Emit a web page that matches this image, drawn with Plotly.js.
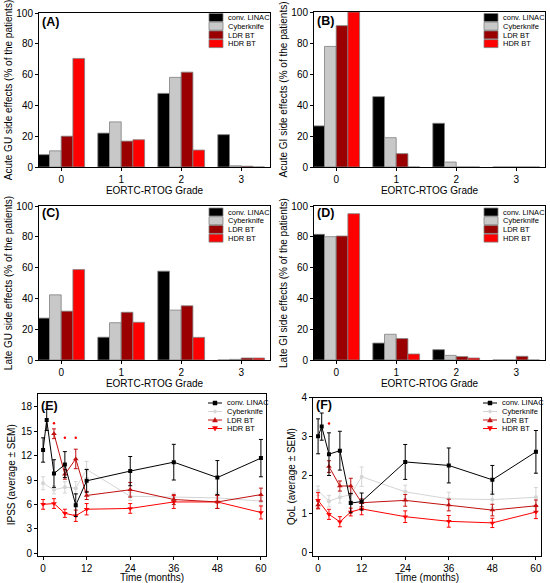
<!DOCTYPE html>
<html>
<head>
<meta charset="utf-8">
<script src="https://cdn.plot.ly/plotly-3.0.1.min.js"></script>
<style>html,body{margin:0;padding:0;background:#fff}#chart{width:550px;height:583px}</style>
</head>
<body>
<div id="chart"></div>
<script>
// ---------- DATA ----------
const seriesNames = ["conv. LINAC", "Cyberknife", "LDR BT", "HDR BT"];
const grades = [0, 1, 2, 3];
const gradeLabels = ["0", "1", "2", "3"];

// (A) Acute GU side effects (% of patients) per grade
const acuteGU_linac = [8, 22, 47.8, 21];
const acuteGU_cyber = [10.5, 29.3, 58.2, 0.8];
const acuteGU_ldr   = [20, 16.8, 61.6, 0.5];
const acuteGU_hdr   = [70.5, 17.7, 11, 0];

// (B) Acute GI
const acuteGI_linac = [26.5, 45.4, 28.2, 0];
const acuteGI_cyber = [77.8, 18.9, 3.2, 0];
const acuteGI_ldr   = [91.2, 8.6, 0, 0];
const acuteGI_hdr   = [100, 0, 0, 0];

// (C) Late GU
const lateGU_linac = [27.2, 14.8, 57.7, 0];
const lateGU_cyber = [42.3, 24.2, 32.4, 0.4];
const lateGU_ldr   = [31.7, 31, 35.2, 1.3];
const lateGU_hdr   = [58.7, 24.5, 14.7, 1.3];

// (D) Late GI
const lateGI_linac = [81.6, 11, 6.7, 0];
const lateGI_cyber = [80.1, 16.7, 3, 0];
const lateGI_ldr   = [80.5, 13.9, 2.2, 2.4];
const lateGI_hdr   = [95, 3.9, 1.3, 0];

// (E) IPSS over time (months)
const months_linac = [0, 1, 3, 6, 9, 12, 24, 36, 48, 60];
const months_cyber = [0, 3, 6, 9, 12, 24, 36, 48, 60];
const months_ldrE  = [3, 6, 9, 12, 24, 36, 48, 60];
const months_hdr   = [0, 3, 6, 9, 12, 24, 36, 48, 60];
const ipss_linac     = [12.7, 16.4, 9.8, 10.9, 5.9, 8.9, 10.1, 11.2, 9.3, 11.7];
const ipss_linac_err = [1.5, 1.3, 1.7, 1.6, 1.4, 1.4, 1.8, 2.2, 2.1, 2.3];
const ipss_cyber     = [8.6, 7.8, 8.1, 8.0, 10.3, 7.0, 6.9, 6.8, 6.4];
const ipss_cyber_err = [0.8, 0.5, 0.7, 0.8, 1.0, 0.5, 0.5, 0.6, 0.5];
const ipss_ldr       = [14.7, 9.7, 11.6, 7.1, 7.8, 6.6, 6.3, 7.2];
const ipss_ldr_err   = [0.6, 0.6, 1.2, 0.5, 0.9, 0.6, 0.8, 0.8];
const ipss_hdr       = [6.0, 6.1, 4.9, 4.6, 5.4, 5.5, 6.3, 6.3, 5.0];
const ipss_hdr_err   = [0.6, 0.6, 0.5, 0.7, 0.7, 0.6, 0.8, 0.8, 0.8];
const ipss_sig_months = [3, 6, 9];
const ipss_sig_values = [16.0, 14.2, 14.2];

// (F) QoL over time (months)
const months_ldrF  = [0, 1, 3, 6, 9, 12, 24, 36, 48, 60];
const qol_linac     = [3.0, 3.25, 2.54, 2.63, 1.28, 1.32, 2.34, 2.25, 1.88, 2.6];
const qol_linac_err = [0.45, 0.35, 0.55, 0.5, 0.25, 0.22, 0.45, 0.45, 0.37, 0.55];
const qol_cyber     = [1.6, 1.33, 1.43, 1.5, 1.96, 1.57, 1.39, 1.37, 1.43];
const qol_cyber_err = [0.12, 0.15, 0.15, 0.15, 0.25, 0.17, 0.17, 0.2, 0.25];
const qol_ldr       = [1.23, null, 2.22, 1.72, 1.72, 1.29, 1.35, 1.23, 1.1, 1.21];
const qol_ldr_err   = [0.1, 0, 0.15, 0.13, 0.2, 0.1, 0.15, 0.15, 0.15, 0.15];
const qol_hdr       = [1.35, 0.99, 0.8, 1.05, 1.13, 0.93, 0.81, 0.77, 1.05];
const qol_hdr_err   = [0.2, 0.13, 0.13, 0.1, 0.15, 0.15, 0.15, 0.12, 0.17];
const qol_sig_months = [3];
const qol_sig_values = [3.33];

const monthTicks = [0, 12, 24, 36, 48, 60];

// ---------- STYLE ----------
const W = 550, H = 583;
const FONT = "Liberation Sans, Arial, sans-serif";
const barColors = ["#000000", "#c8c8c8", "#9b0000", "#ff0000"];
const lineColors = ["#000000", "#d4d4d4", "#c01010", "#ff0000"];
const lineSymbols = ["square", "circle", "triangle-up", "triangle-down"];
const px = x => x / W;
const py = y => 1 - y / H;

const traces = [];
function addBars(xa, ya, arrs) {
  arrs.forEach((vals, i) => {
    traces.push({
      type: "bar", x: grades, y: vals, xaxis: xa, yaxis: ya,
      name: seriesNames[i], showlegend: false,
      marker: { color: barColors[i], line: { color: "#808080", width: 0.8 } },
      hoverinfo: "x+y"
    });
  });
}
addBars("x", "y", [acuteGU_linac, acuteGU_cyber, acuteGU_ldr, acuteGU_hdr]);
addBars("x2", "y2", [acuteGI_linac, acuteGI_cyber, acuteGI_ldr, acuteGI_hdr]);
addBars("x3", "y3", [lateGU_linac, lateGU_cyber, lateGU_ldr, lateGU_hdr]);
addBars("x4", "y4", [lateGI_linac, lateGI_cyber, lateGI_ldr, lateGI_hdr]);

function addLine(xa, ya, i, xs, ys, es) {
  traces.push({
    type: "scatter", mode: "lines+markers", x: xs, y: ys, xaxis: xa, yaxis: ya,
    name: seriesNames[i], showlegend: false, connectgaps: false,
    line: { color: lineColors[i], width: 1 },
    marker: { color: lineColors[i], symbol: lineSymbols[i], size: i >= 2 ? 5 : 4 },
    error_y: { type: "data", array: es, visible: true, color: lineColors[i], thickness: 1, width: 2 }
  });
}
addLine("x5", "y5", 1, months_cyber, ipss_cyber, ipss_cyber_err);
addLine("x5", "y5", 3, months_hdr, ipss_hdr, ipss_hdr_err);
addLine("x5", "y5", 2, months_ldrE, ipss_ldr, ipss_ldr_err);
addLine("x5", "y5", 0, months_linac, ipss_linac, ipss_linac_err);
traces.push({ type: "scatter", mode: "markers", x: ipss_sig_months, y: ipss_sig_values, xaxis: "x5", yaxis: "y5",
  showlegend: false, marker: { color: "#ff0000", size: 2.5, symbol: "circle" }, hoverinfo: "skip" });

addLine("x6", "y6", 1, months_cyber, qol_cyber, qol_cyber_err);
addLine("x6", "y6", 3, months_hdr, qol_hdr, qol_hdr_err);
addLine("x6", "y6", 2, months_ldrF, qol_ldr, qol_ldr_err);
addLine("x6", "y6", 0, months_linac, qol_linac, qol_linac_err);
traces.push({ type: "scatter", mode: "markers", x: qol_sig_months, y: qol_sig_values, xaxis: "x6", yaxis: "y6",
  showlegend: false, marker: { color: "#ff0000", size: 2.5, symbol: "circle" }, hoverinfo: "skip" });

// ---------- LAYOUT ----------
function axisBase() {
  return {
    showline: true, linecolor: "#000", linewidth: 1, mirror: true,
    ticks: "outside", ticklen: 3, tickwidth: 1, tickcolor: "#000",
    showgrid: false, zeroline: false, automargin: false,
    tickfont: { family: FONT, size: 10, color: "#000" }
  };
}
function xCat(l, r, anchor) {
  return Object.assign(axisBase(), {
    domain: [px(l), px(r)], anchor: anchor, range: [-0.37, 3.48],
    tickmode: "array", tickvals: grades, ticktext: gradeLabels,
    title: { text: "EORTC-RTOG Grade", font: { family: FONT, size: 10, color: "#000" }, standoff: 1 }
  });
}
function yPct(t, b, anchor, title) {
  return Object.assign(axisBase(), {
    domain: [py(b), py(t)], anchor: anchor, range: [0, 100],
    tickmode: "array", tickvals: [0, 20, 40, 60, 80, 100],
    title: { text: title, font: { family: FONT, size: 10, color: "#000" }, standoff: 1 }
  });
}
function xTime(l, r, anchor) {
  return Object.assign(axisBase(), {
    domain: [px(l), px(r)], anchor: anchor, range: [-1.4, 61.4],
    tickmode: "array", tickvals: monthTicks,
    title: { text: "Time (months)", font: { family: FONT, size: 10, color: "#000" }, standoff: 0 }
  });
}

const layout = {
  width: W, height: H,
  margin: { l: 0, r: 0, t: 0, b: 0 },
  paper_bgcolor: "#fff", plot_bgcolor: "#fff",
  showlegend: false,
  barmode: "group", bargap: 0.22, bargroupgap: 0,
  font: { family: FONT, size: 10, color: "#000" },
  xaxis: xCat(39, 270, "y"),
  yaxis: yPct(13, 167, "x", "Acute GU side effects (% of the patients)"),
  xaxis2: xCat(314, 545, "y2"),
  yaxis2: yPct(12, 167, "x2", "Acute GI side effects (% of the patients)"),
  xaxis3: xCat(39, 270, "y3"),
  yaxis3: yPct(206, 360, "x3", "Late GU side effects (% of the patients)"),
  xaxis4: xCat(314, 545, "y4"),
  yaxis4: yPct(206, 360, "x4", "Late GI side effects (% of the patients)"),
  xaxis5: xTime(38, 266, "y5"),
  yaxis5: Object.assign(axisBase(), {
    domain: [py(555.5), py(394)], anchor: "x5", range: [-0.3, 19.6],
    tickmode: "array", tickvals: [0, 3, 6, 9, 12, 15, 18],
    title: { text: "IPSS (average \u00b1 SEM)", font: { family: FONT, size: 10, color: "#000" }, standoff: 3 }
  }),
  xaxis6: xTime(313, 541, "y6"),
  yaxis6: Object.assign(axisBase(), {
    domain: [py(555.5), py(397.5)], anchor: "x6", range: [-0.07, 4],
    tickmode: "array", tickvals: [0, 1, 2, 3, 4],
    title: { text: "QoL (average \u00b1 SEM)", font: { family: FONT, size: 10, color: "#000" }, standoff: 3 }
  }),
  shapes: [],
  annotations: []
};

// panel labels
[["(A)", 40, 21.5], ["(B)", 315, 21], ["(C)", 40, 213], ["(D)", 315, 213], ["(E)", 39, 406], ["(F)", 314, 405]]
  .forEach(([t, x, y]) => layout.annotations.push({
    text: "<b>" + t + "</b>", xref: "paper", yref: "paper", x: px(x), y: py(y),
    xanchor: "left", yanchor: "middle", showarrow: false,
    font: { family: FONT, size: 12.5, color: "#000" }
  }));

// bar legends
function barLegend(lx, top) {
  seriesNames.forEach((n, i) => {
    const y0 = top + i * 8.7;
    layout.shapes.push({ type: "rect", xref: "paper", yref: "paper",
      x0: px(lx), x1: px(lx + 14), y0: py(y0 + 8), y1: py(y0),
      fillcolor: barColors[i], line: { color: "#808080", width: 0.8 } });
    layout.annotations.push({ text: n, xref: "paper", yref: "paper",
      x: px(lx + 17), y: py(y0 + 4.2), xanchor: "left", yanchor: "middle", showarrow: false,
      font: { family: FONT, size: 7.5, color: "#000" } });
  });
}
barLegend(209, 13.5);
barLegend(484, 13.5);
barLegend(209, 208);
barLegend(484, 208);

// line legends
function lineLegend(lx, top) {
  seriesNames.forEach((n, i) => {
    const yc = top + i * 8.5;
    const c = lineColors[i];
    layout.shapes.push({ type: "line", xref: "paper", yref: "paper",
      x0: px(lx), x1: px(lx + 14), y0: py(yc), y1: py(yc), line: { color: c, width: 1 } });
    const mx = lx + 7, s = 2;
    let path;
    if (i === 0) path = `M${px(mx - s)},${py(yc - s)} L${px(mx + s)},${py(yc - s)} L${px(mx + s)},${py(yc + s)} L${px(mx - s)},${py(yc + s)} Z`;
    else if (i === 1) path = `M${px(mx - s)},${py(yc)} L${px(mx)},${py(yc - s)} L${px(mx + s)},${py(yc)} L${px(mx)},${py(yc + s)} Z`;
    else if (i === 2) path = `M${px(mx - 2.5)},${py(yc + 2)} L${px(mx + 2.5)},${py(yc + 2)} L${px(mx)},${py(yc - 2.5)} Z`;
    else path = `M${px(mx - 2.5)},${py(yc - 2)} L${px(mx + 2.5)},${py(yc - 2)} L${px(mx)},${py(yc + 2.5)} Z`;
    layout.shapes.push({ type: "path", xref: "paper", yref: "paper", path: path,
      fillcolor: c, line: { color: c, width: 0.5 } });
    layout.annotations.push({ text: n, xref: "paper", yref: "paper",
      x: px(lx + 17), y: py(yc), xanchor: "left", yanchor: "middle", showarrow: false,
      font: { family: FONT, size: 7.5, color: "#000" } });
  });
}
lineLegend(208, 403);
lineLegend(483, 403);

Plotly.newPlot("chart", traces, layout, { staticPlot: true, displayModeBar: false });
</script>
</body>
</html>
